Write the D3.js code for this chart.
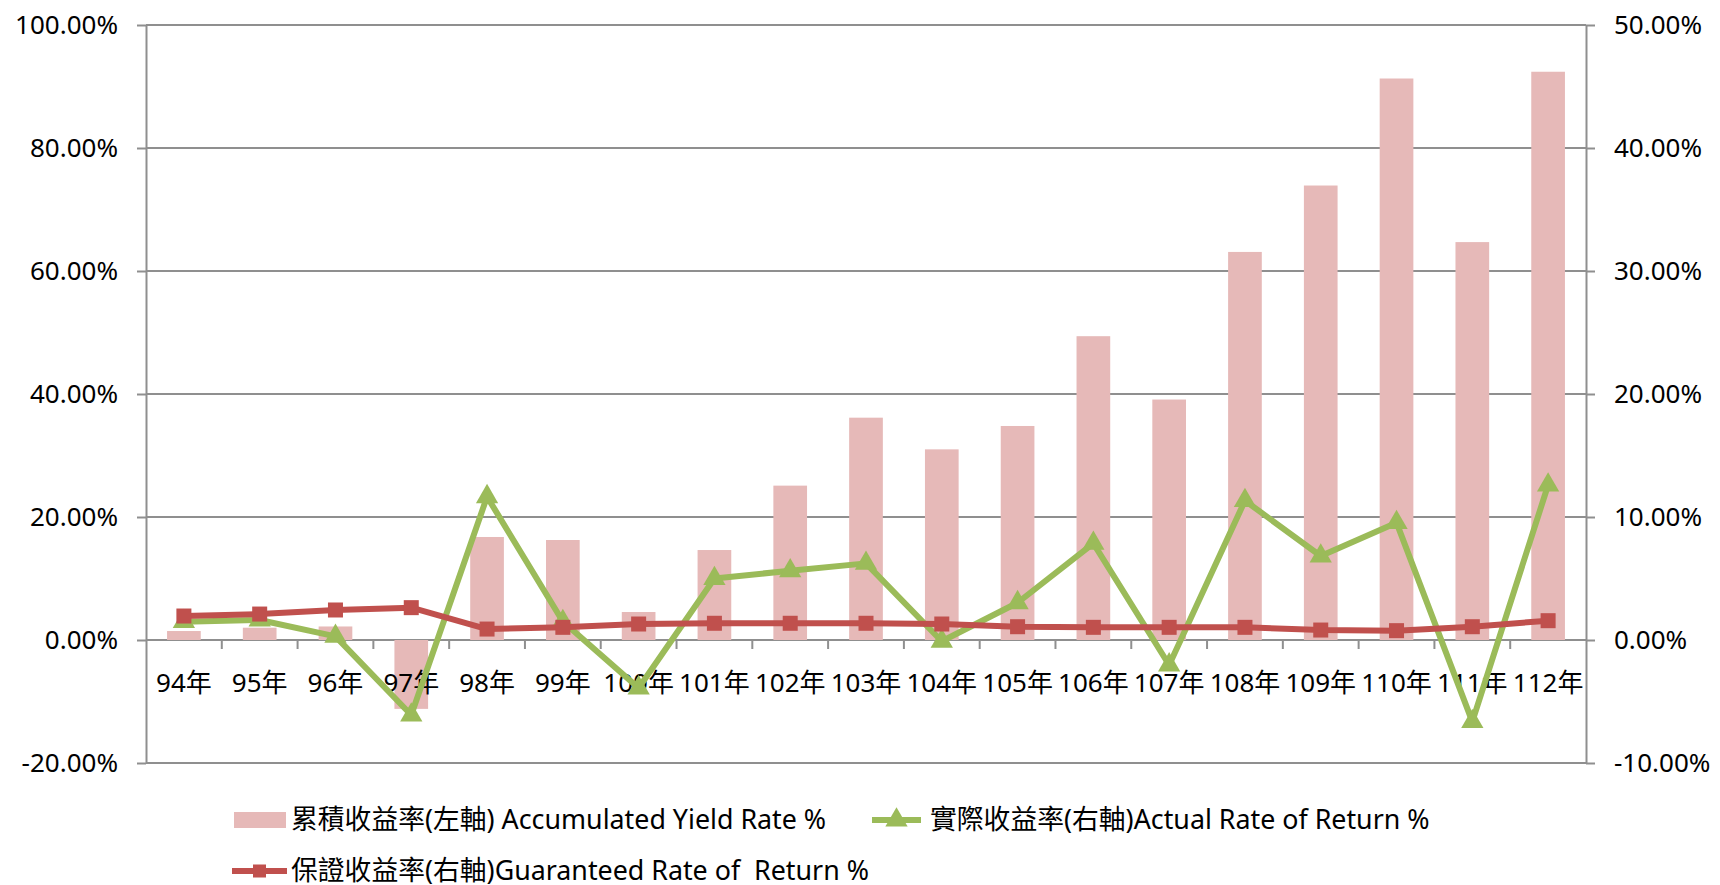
<!DOCTYPE html>
<html>
<head>
<meta charset="utf-8">
<script src="https://cdn.jsdelivr.net/npm/d3@7"></script>
<style>
    body { margin: 0; background: #fff; }
    svg text { font-family: "Noto Sans", "Noto Sans CJK TC", sans-serif; fill: #000; }
</style>
</head>
<body>
<div id="chart"></div>
<script>
// categories
const years = ["94年", "95年", "96年", "97年", "98年", "99年", "100年", "101年", "102年", "103年",
    "104年", "105年", "106年", "107年", "108年", "109年", "110年", "111年", "112年"];

// 累積收益率 (left axis, %)
const accumulated = [1.46, 2.0, 2.2, -11.2, 16.75, 16.26, 4.55, 14.63, 25.1, 36.15,
    31.0, 34.8, 49.4, 39.1, 63.1, 73.9, 91.3, 64.7, 92.4];

// 實際收益率 (right axis, %)
const actual = [1.49, 1.63, 0.3, -6.1, 11.65, 1.5, -3.9, 5.0, 5.63, 6.23,
    -0.1, 3.03, 7.86, -2.03, 11.33, 6.83, 9.54, -6.64, 12.6];

// 保證收益率 (right axis, %)
const guaranteed = [1.95, 2.11, 2.44, 2.63, 0.89, 1.03, 1.30, 1.36, 1.36, 1.36,
    1.30, 1.08, 1.03, 1.03, 1.03, 0.81, 0.76, 1.08, 1.57];

// tick values
const leftTicks = [-20, 0, 20, 40, 60, 80, 100];
const rightTicks = [-10, 0, 10, 20, 30, 40, 50];

// legend labels
const legendLabels = [
    "累積收益率(左軸) Accumulated Yield Rate %",
    "實際收益率(右軸)Actual Rate of Return %",
    "保證收益率(右軸)Guaranteed Rate of  Return %"
];

const barColor = "#E6B9B8",
    greenColor = "#9BBB59",
    redColor = "#C0504D",
    gridColor = "#8f8f8f";

// set the dimensions of the plot area
const width = 1720, height = 885;
const plot = {left: 146, right: 1586, top: 25, bottom: 763};

const svg = d3.select("#chart")
    .append("svg")
    .attr("width", width)
    .attr("height", height);

// scales
const x = d3.scaleBand()
    .domain(years)
    .range([plot.left, plot.right]);

const yLeft = d3.scaleLinear()
    .domain([-20, 100])
    .range([plot.bottom, plot.top]);

const yRight = d3.scaleLinear()
    .domain([-10, 50])
    .range([plot.bottom, plot.top]);

const barWidth = x.bandwidth() / 2.25;
const cx = d => x(d) + x.bandwidth() / 2;

// gridlines
svg.append("g")
    .selectAll("line")
    .data(leftTicks)
    .join("line")
    .attr("x1", plot.left)
    .attr("x2", plot.right)
    .attr("y1", d => yLeft(d))
    .attr("y2", d => yLeft(d))
    .style("stroke", gridColor)
    .style("stroke-width", 2);

// bars
svg.append("g")
    .selectAll("rect")
    .data(years)
    .join("rect")
    .attr("x", d => cx(d) - barWidth / 2)
    .attr("y", (d, i) => yLeft(Math.max(0, accumulated[i])))
    .attr("width", barWidth)
    .attr("height", (d, i) => Math.abs(yLeft(accumulated[i]) - yLeft(0)))
    .style("fill", barColor);

// left axis
const leftAxis = svg.append("g")
    .attr("transform", `translate(${plot.left}, 0)`)
    .call(d3.axisLeft(yLeft).tickValues(leftTicks).tickSize(9).tickSizeOuter(0).tickPadding(19)
        .tickFormat(d => d.toFixed(2) + "%"));

// right axis
const rightAxis = svg.append("g")
    .attr("transform", `translate(${plot.right}, 0)`)
    .call(d3.axisRight(yRight).tickValues(rightTicks).tickSize(9).tickSizeOuter(0).tickPadding(19)
        .tickFormat(d => d.toFixed(2) + "%"));

[leftAxis, rightAxis].forEach(g => {
    g.selectAll("line").style("stroke", gridColor).style("stroke-width", 2);
    g.select(".domain").style("stroke", gridColor).style("stroke-width", 2);
    g.selectAll("text").style("font-size", "26px");
});

// category axis on the zero line
const xAxis = svg.append("g")
    .attr("transform", `translate(0, ${yLeft(0)})`)
    .call(d3.axisBottom(x).tickSize(0).tickPadding(34));
xAxis.select(".domain").remove();
xAxis.selectAll("text").style("font-size", "26px");

// tick marks between categories
svg.append("g")
    .selectAll("line")
    .data(years.slice(1))
    .join("line")
    .attr("x1", d => x(d))
    .attr("x2", d => x(d))
    .attr("y1", yLeft(0))
    .attr("y2", yLeft(0) + 9)
    .style("stroke", gridColor)
    .style("stroke-width", 2);

// green line: actual return
const seriesLine = d3.line()
    .x((d, i) => cx(years[i]))
    .y(d => yRight(d));

svg.append("path")
    .datum(actual)
    .attr("d", seriesLine)
    .style("fill", "none")
    .style("stroke", greenColor)
    .style("stroke-width", 6)
    .style("stroke-linejoin", "round");

const triangle = d3.symbol(d3.symbolTriangle, 215);

svg.append("g")
    .selectAll("path")
    .data(actual)
    .join("path")
    .attr("d", triangle)
    .attr("transform", (d, i) => `translate(${cx(years[i])}, ${yRight(d)})`)
    .style("fill", greenColor);

// red line: guaranteed return
svg.append("path")
    .datum(guaranteed)
    .attr("d", seriesLine)
    .style("fill", "none")
    .style("stroke", redColor)
    .style("stroke-width", 6)
    .style("stroke-linejoin", "round");

svg.append("g")
    .selectAll("rect")
    .data(guaranteed)
    .join("rect")
    .attr("x", (d, i) => cx(years[i]) - 7.5)
    .attr("y", d => yRight(d) - 7.5)
    .attr("width", 15)
    .attr("height", 15)
    .style("fill", redColor);

// legend
const legend = svg.append("g");

legend.append("rect")
    .attr("x", 234)
    .attr("y", 812)
    .attr("width", 52)
    .attr("height", 16)
    .style("fill", barColor);

legend.append("line")
    .attr("x1", 872).attr("x2", 921)
    .attr("y1", 820).attr("y2", 820)
    .style("stroke", greenColor)
    .style("stroke-width", 6);
legend.append("path")
    .attr("d", triangle)
    .attr("transform", "translate(896.5, 820)")
    .style("fill", greenColor);

legend.append("line")
    .attr("x1", 232).attr("x2", 287)
    .attr("y1", 871).attr("y2", 871)
    .style("stroke", redColor)
    .style("stroke-width", 6);
legend.append("rect")
    .attr("x", 253).attr("y", 864.5)
    .attr("width", 13).attr("height", 13)
    .style("fill", redColor);

const legendPos = [[291, 820], [930, 820], [291, 871]];
legend.selectAll("text")
    .data(legendLabels)
    .join("text")
    .attr("x", (d, i) => legendPos[i][0])
    .attr("y", (d, i) => legendPos[i][1])
    .attr("dy", "0.35em")
    .style("font-size", "26.8px")
    .style("white-space", "pre")
    .text(d => d);
</script>
</body>
</html>
